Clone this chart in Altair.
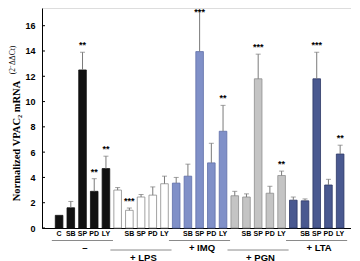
import altair as alt
import pandas as pd

# ---- data ----
groups = ["–", "+ LPS", "+ IMQ", "+ PGN", "+ LTA"]
bar_labels = ["C", "SB", "SP", "PD", "LY",
              "", "SB", "SP", "PD", "LY",
              "", "SB", "SP", "PD", "LY",
              "", "SB", "SP", "PD", "LY",
              "", "SB", "SP", "PD", "LY"]
means = [1.0, 1.6, 12.5, 2.9, 4.7,
         3.0, 1.4, 2.45, 2.6, 3.5,
         3.55, 4.1, 13.95, 5.15, 7.65,
         2.55, 2.45, 11.8, 2.75, 4.15,
         2.2, 2.15, 11.8, 3.4, 5.85]
upper = [1.0, 2.1, 13.9, 3.9, 5.68,
         3.2, 1.58, 2.65, 3.25, 4.1,
         4.0, 5.05, 17.2, 6.7, 9.7,
         2.9, 2.7, 13.75, 3.3, 4.5,
         2.45, 2.3, 13.9, 3.85, 6.55]
stars = ["", "", "**", "**", "**",
         "", "***", "", "", "",
         "", "", "***", "", "**",
         "", "", "***", "", "**",
         "", "", "***", "", "**"]
y_ticks = [0, 2, 4, 6, 8, 10, 12, 14, 16]

fills = ["#111111", "#ffffff", "#8090c8", "#c4c4c4", "#4a5990"]
strokes = ["#111111", "#8a8a8a", "#5f6fa8", "#8e8e8e", "#2c3766"]

n = len(means)
df = pd.DataFrame({
    "idx": list(range(n)),
    "grp": [groups[i // 5] for i in range(n)],
    "mean": means,
    "upper": upper,
    "label": bar_labels,
    "star": stars,
})
gdf = pd.DataFrame({
    "grp": groups,
    "start": [5 * g - 0.62 for g in range(5)],
    "end": [5 * g + 4.6 for g in range(5)],
    "center": [5 * g + 2.2 for g in range(5)],
    "odd": [g % 2 == 0 for g in range(5)],
})
tdf = pd.DataFrame({"t": y_ticks})

YMAX = 17.4
xs = alt.Scale(domain=[-1.033, 24.5], nice=False, zero=False)
ys = alt.Scale(domain=[0, YMAX], nice=False)

x_axis = alt.Axis(labels=False, ticks=False, grid=False, title=None,
                  domainColor="#000000", domainWidth=1)
y_axis = alt.Axis(values=y_ticks, grid=False, title=None, ticks=False,
                  labelOverlap=False,
                  labelFont="Liberation Sans", labelFontWeight="bold",
                  labelFontSize=9, labelPadding=7, labelColor="#000000",
                  domainColor="#000000", domainWidth=1)


def xq(field):
    return alt.X(field, scale=xs, axis=x_axis)


def yq(field):
    return alt.Y(field, scale=ys, axis=y_axis)


base = alt.Chart(df)

bars = base.mark_bar(width=7.6, strokeWidth=0.8).encode(
    x=xq("idx:Q"), y=yq("mean:Q"),
    color=alt.Color("grp:N", scale=alt.Scale(domain=groups, range=fills), legend=None),
    stroke=alt.Stroke("grp:N", scale=alt.Scale(domain=groups, range=strokes), legend=None),
)

err = base.transform_filter("datum.idx > 0").mark_rule(color="#7a7a7a", strokeWidth=1).encode(
    x=xq("idx:Q"), y=yq("mean:Q"), y2="upper:Q")
caps = base.transform_filter("datum.idx > 0").mark_tick(
    color="#7a7a7a", orient="horizontal", size=5, thickness=1).encode(
    x=xq("idx:Q"), y=yq("upper:Q"))

star_txt = base.transform_filter("datum.star != ''").transform_calculate(
    sy=f"min(datum.upper + 0.88, {YMAX})"
).mark_text(
    font="Liberation Sans", fontSize=9, fontWeight="bold", baseline="top",
    color="#000000").encode(x=xq("idx:Q"), y=yq("sy:Q"), text="star:N")

lbl = base.mark_text(font="Liberation Sans", fontSize=7, fontWeight="bold",
                     baseline="middle", color="#000000").encode(
    x=xq("idx:Q"), y=alt.value(226), text="label:N")

ytick_marks = alt.Chart(tdf).mark_rule(color="#000000", strokeWidth=1).encode(
    x=alt.value(0), x2=alt.value(3), y=yq("t:Q"))

under_odd = alt.Chart(gdf).transform_filter("datum.odd").mark_rule(
    color="#8a8a8a", strokeWidth=1).encode(
    x=xq("start:Q"), x2="end:Q", y=alt.value(232.5))
under_even = alt.Chart(gdf).transform_filter("!datum.odd").mark_rule(
    color="#8a8a8a", strokeWidth=1).encode(
    x=xq("start:Q"), x2="end:Q", y=alt.value(242))
gt_odd = alt.Chart(gdf).transform_filter("datum.odd").mark_text(
    font="Liberation Sans", fontSize=9.5, fontWeight="bold", baseline="middle",
    color="#000000").encode(x=xq("center:Q"), y=alt.value(239.5), text="grp:N")
gt_even = alt.Chart(gdf).transform_filter("!datum.odd").mark_text(
    font="Liberation Sans", fontSize=9.5, fontWeight="bold", baseline="middle",
    color="#000000").encode(x=xq("center:Q"), y=alt.value(249.5), text="grp:N")

title_main = alt.Chart(pd.DataFrame({"t": ["Normalized VPAC₂ mRNA"]})).mark_text(
    font="Liberation Serif", fontSize=10.5, fontWeight="bold", angle=270,
    baseline="middle", align="center", color="#000000").encode(
    x=alt.value(-25.5), y=alt.value(133), text="t:N")
title_sup = alt.Chart(pd.DataFrame({"t": ["(2⁻ΔΔCt)"]})).mark_text(
    font="Liberation Serif", fontSize=7.5, angle=270,
    baseline="middle", align="center", color="#000000").encode(
    x=alt.value(-29), y=alt.value(52), text="t:N")

chart = alt.layer(
    bars, err, caps, star_txt, lbl, ytick_marks,
    under_odd, under_even, gt_odd, gt_even, title_main, title_sup
).properties(
    width=309, height=220,
    autosize=alt.AutoSizeParams(type="none"),
    padding={"left": 34, "top": 0, "right": 0, "bottom": 37},
).configure_view(stroke=None).configure(background="#ffffff")

chart.save("out.html", embed_options={"renderer": "svg", "actions": False})
